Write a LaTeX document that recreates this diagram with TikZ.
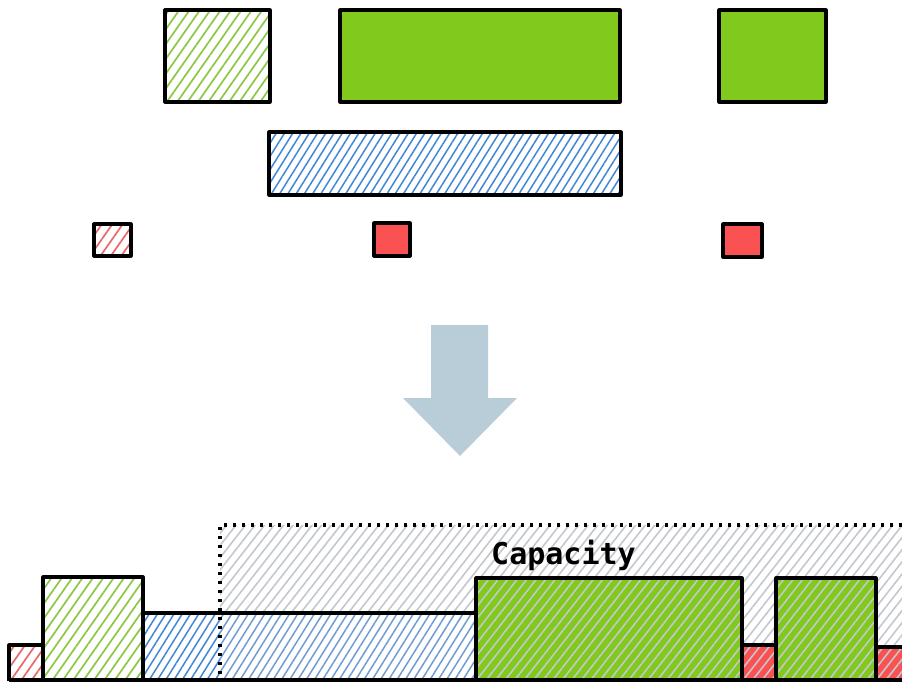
\documentclass[tikz,border=0pt]{standalone}
\usepackage{fontspec}
\newfontfamily\capfont{DejaVu Sans Mono}
\usetikzlibrary{patterns.meta}

\definecolor{grn}{RGB}{130,201,30}
\definecolor{rd}{RGB}{250,82,82}
\definecolor{grnhatch}{RGB}{140,200,70}
\definecolor{bluhatch}{RGB}{66,135,212}
\definecolor{rdhatch}{RGB}{232,105,105}
\definecolor{caphatch}{RGB}{196,199,204}
\definecolor{arrowfill}{RGB}{185,205,217}

\tikzset{
  outline/.style={draw=black, line width=3.2pt, line join=round},
  solidgreen/.style={outline, fill=grn},
  solidred/.style={outline, fill=rd},
  hatched/.style={pattern={Lines[angle=55,distance=8.5pt,line width=1.7pt]}, pattern color=#1},
  hatcheddense/.style={pattern={Lines[angle=58,distance=7pt,line width=1.5pt]}, pattern color=#1},
  hatchedcap/.style={pattern={Lines[angle=52,distance=7.5pt,line width=1.6pt]}, pattern color=#1},
  capborder/.style={draw=black, line width=3.4pt, dash pattern=on 3pt off 6pt},
}

\begin{document}
\begin{tikzpicture}[x=1pt,y=-1pt]
\useasboundingbox[fill=white] (0,0) rectangle (902,681);

% ---- separate items ----
\draw[outline, hatched=grnhatch] (165,10) rectangle (270,102);
\draw[solidgreen] (340,10) rectangle (620,102);
\draw[solidgreen] (719,10) rectangle (826,102);

\draw[outline, hatcheddense=bluhatch] (269,132) rectangle (621,195);

\draw[outline, hatched=rdhatch] (94,224) rectangle (131,256);
\draw[solidred] (374,223) rectangle (410,256);
\draw[solidred] (723,224) rectangle (762,257);

% ---- down arrow ----
\fill[arrowfill] (431,325) -- (488,325) -- (488,398) -- (517,398)
  -- (460,456) -- (403,398) -- (431,398) -- cycle;

% ---- packed row: fills ----
\fill[hatched=rdhatch] (9,645) rectangle (43,681);
\fill[hatched=grnhatch] (43,577) rectangle (143,681);
\fill[hatcheddense=bluhatch] (143,613) rectangle (220,681);
% blue block inside the capacity band, tinted grey
\fill[hatcheddense=bluhatch!65!caphatch] (220,613) rectangle (476,681);
\fill[grn] (476,578) rectangle (742,681);
\fill[rd] (742,645) rectangle (776,681);
\fill[grn] (776,578) rectangle (876,681);
\fill[rd] (876,647) rectangle (902,681);

% capacity shading over the packed row
\fill[hatchedcap=caphatch] (220,525) rectangle (902,613);
\fill[hatchedcap=caphatch] (476,613) rectangle (902,681);

% ---- packed row: outlines ----
\draw[outline] (9,681) -- (9,645) -- (43,645);
\draw[outline] (43,681) -- (43,577) -- (143,577) -- (143,681);
\draw[outline] (143,613) -- (476,613);
\draw[outline] (476,681) -- (476,578) -- (742,578) -- (742,681);
\draw[outline] (742,645) -- (776,645);
\draw[outline] (776,681) -- (776,578) -- (876,578) -- (876,681);
\draw[outline] (876,647) -- (902,647);
\draw[outline] (9,680) -- (902,680);

% capacity boundary
\draw[capborder] (902,525) -- (220,525) -- (220,681);
\node[anchor=base west, inner sep=0pt, font=\capfont\bfseries\fontsize{30}{30}\selectfont]
  (cap) at (491,564) {Capacity};
\end{tikzpicture}
\end{document}
